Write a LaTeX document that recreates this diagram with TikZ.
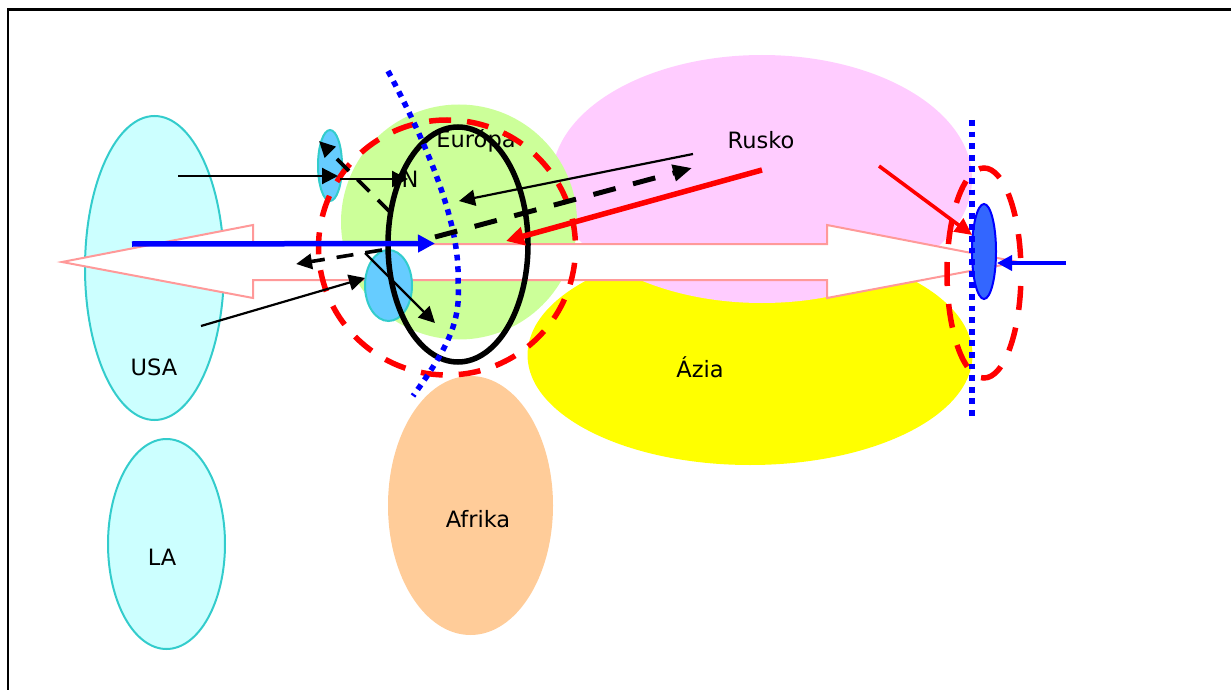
\documentclass[tikz,border=0pt]{standalone}
\usepackage{fontspec}
\setmainfont{DejaVu Sans}
\usetikzlibrary{shapes.geometric,arrows.meta}
\definecolor{cyanfill}{HTML}{CCFFFF}
\definecolor{tealline}{HTML}{33CCCC}
\definecolor{pinkfill}{HTML}{FFCCFF}
\definecolor{greenfill}{HTML}{CCFF99}
\definecolor{orangefill}{HTML}{FFCC99}
\definecolor{skyfill}{HTML}{66CCFF}
\definecolor{royalfill}{HTML}{3366FF}
\definecolor{salmon}{HTML}{FF9999}
\definecolor{pureyellow}{HTML}{FFFF00}
\definecolor{purered}{HTML}{FF0000}
\definecolor{pureblue}{HTML}{0000FF}
\tikzset{
  every node/.style={font=\fontsize{22.5}{26}\selectfont,text=black},
  blob/.style={ellipse,inner sep=0pt,outer sep=0pt},
  cyanblob/.style={blob,fill=cyanfill,draw=tealline,line width=2pt},
  skyblob/.style={blob,fill=skyfill,draw=tealline,line width=2pt},
  label/.style={inner sep=0pt},
  thinarrow/.style={black,line width=2.2pt,-{Triangle[length=16pt,width=16pt]}},
  dasharrow/.style={black,line width=3.6pt,dash pattern=on 17pt off 12pt,-{Triangle[length=16pt,width=15pt]}},
  bigdash/.style={black,line width=5pt,dash pattern=on 23pt off 18pt,-{Triangle[length=19pt,width=16pt]}},
  bigring/.style={blob,draw=purered,line width=5.5pt,dash pattern=on 22pt off 16pt,dash phase=31pt},
  smallring/.style={blob,draw=purered,line width=5.5pt,dash pattern=on 24pt off 18pt,dash phase=27pt},
  bluedots/.style={pureblue,line width=5.5pt,dash pattern=on 5.8pt off 5.8pt},
}
\begin{document}
\begin{tikzpicture}[x=1pt,y=-1pt]
\useasboundingbox (0,0) rectangle (1231,690);
\clip (0,0) rectangle (1231,690);
% continents
\node[blob,fill=pureyellow,minimum width=445pt,minimum height=220pt] (asia) at (750,355) {};
\node[blob,fill=pinkfill,minimum width=420pt,minimum height=248pt] (rusko) at (762,179) {};
\node[blob,fill=greenfill,minimum width=236pt,minimum height=235pt] (europa) at (459,222) {};
\node[blob,fill=orangefill,minimum width=165pt,minimum height=259pt] (afrika) at (470.5,505.5) {};
\node[cyanblob,minimum width=139pt,minimum height=304pt] (usa) at (154.5,268) {};
\node[cyanblob,minimum width=117pt,minimum height=210pt] (la) at (166.5,544) {};
% double arrow
\draw[salmon,fill=white,line width=2pt,line join=miter]
  (1018,262) -- (827,225) -- (827,244) -- (253,244) -- (253,225) -- (62,262)
  -- (253,298) -- (253,280) -- (827,280) -- (827,298) -- cycle;
% frame
\coordinate (fbl) at (8,691); \coordinate (ftl) at (8,9.5); \coordinate (ftr) at (1231,9.5);
\draw[black,line width=2.2pt] (fbl) -- (ftl) -- (ftr);
% small blobs
\node[skyblob,minimum width=24pt,minimum height=71pt] (hubA) at (330,165.5) {};
\node[skyblob,minimum width=47pt,minimum height=71pt] (hubB) at (388.5,285.5) {};
\node[blob,fill=royalfill,draw=pureblue,line width=2pt,minimum width=24pt,minimum height=95pt] (hubC) at (984,251.5) {};
% labels
\node[label] (tRusko) at (761,140) {Rusko};
\node[label] (tEuropa) at (476,141) {Európa};
\node[label] (tN) at (410,179) {N};
\node[label] (tUSA) at (154,367) {USA};
\node[label] (tAzia) at (700,367) {Ázia};
\node[label] (tAfrika) at (478,519) {Afrika};
\node[label] (tLA) at (162,557) {LA};
% rings
\node[bigring,minimum width=257pt,minimum height=255pt] (ringE) at (447,247.5) {};
\node[smallring,minimum width=74pt,minimum height=210pt] (ringR) at (984,273) {};
\node[blob,draw=black,line width=5.5pt,minimum width=140pt,minimum height=235pt] (core) at (458,244.5) {};
% dotted borders
\coordinate (d1) at (388,71); \coordinate (d2) at (413,396);
\coordinate (v1) at (972,120); \coordinate (v2) at (972,417);
\draw[bluedots] (d1) .. controls (430,150) and (460,225) .. (458,280)
   .. controls (461,320) and (450,345) .. (d2);
\draw[bluedots] (v1) -- (v2);
% connectors
\coordinate (a1s) at (178,176); \coordinate (a1e) at (338,176);
\draw[thinarrow] (a1s) -- (a1e);
\coordinate (a2s) at (340,179); \coordinate (a2e) at (408,179);
\draw[thinarrow] (a2s) -- (a2e);
\coordinate (a3s) at (390,212); \coordinate (a3e) at (319,141);
\draw[dasharrow] (a3s) -- (a3e);
\coordinate (a4s) at (435,237); \coordinate (a4e) at (692,168);
\draw[bigdash] (a4s) -- (a4e);
\coordinate (a5s) at (382,250); \coordinate (a5e) at (296,264);
\draw[dasharrow] (a5s) -- (a5e);
\coordinate (a6s) at (693,154); \coordinate (a6e) at (459,201);
\draw[thinarrow] (a6s) -- (a6e);
\coordinate (a7s) at (201,326); \coordinate (a7e) at (365,278);
\draw[thinarrow] (a7s) -- (a7e);
\coordinate (a8s) at (365,253); \coordinate (a8e) at (435,323);
\draw[thinarrow] (a8s) -- (a8e);
\coordinate (b1s) at (132,244); \coordinate (b1e) at (435,243.5);
\draw[pureblue,line width=5.5pt,-{Triangle[length=17pt,width=17pt]}] (b1s) -- (b1e);
\coordinate (b2s) at (1066,263); \coordinate (b2e) at (997,263);
\draw[pureblue,line width=3.6pt,-{Triangle[length=15pt,width=15pt]}] (b2s) -- (b2e);
\coordinate (r1s) at (762,170); \coordinate (r1e) at (506,241);
\draw[purered,line width=5.5pt,-{Triangle[length=18pt,width=18pt]}] (r1s) -- (r1e);
\coordinate (r2s) at (879,166); \coordinate (r2e) at (972,235);
\draw[purered,line width=3.6pt,-{Triangle[length=17pt,width=16pt]}] (r2s) -- (r2e);
\end{tikzpicture}
\end{document}
